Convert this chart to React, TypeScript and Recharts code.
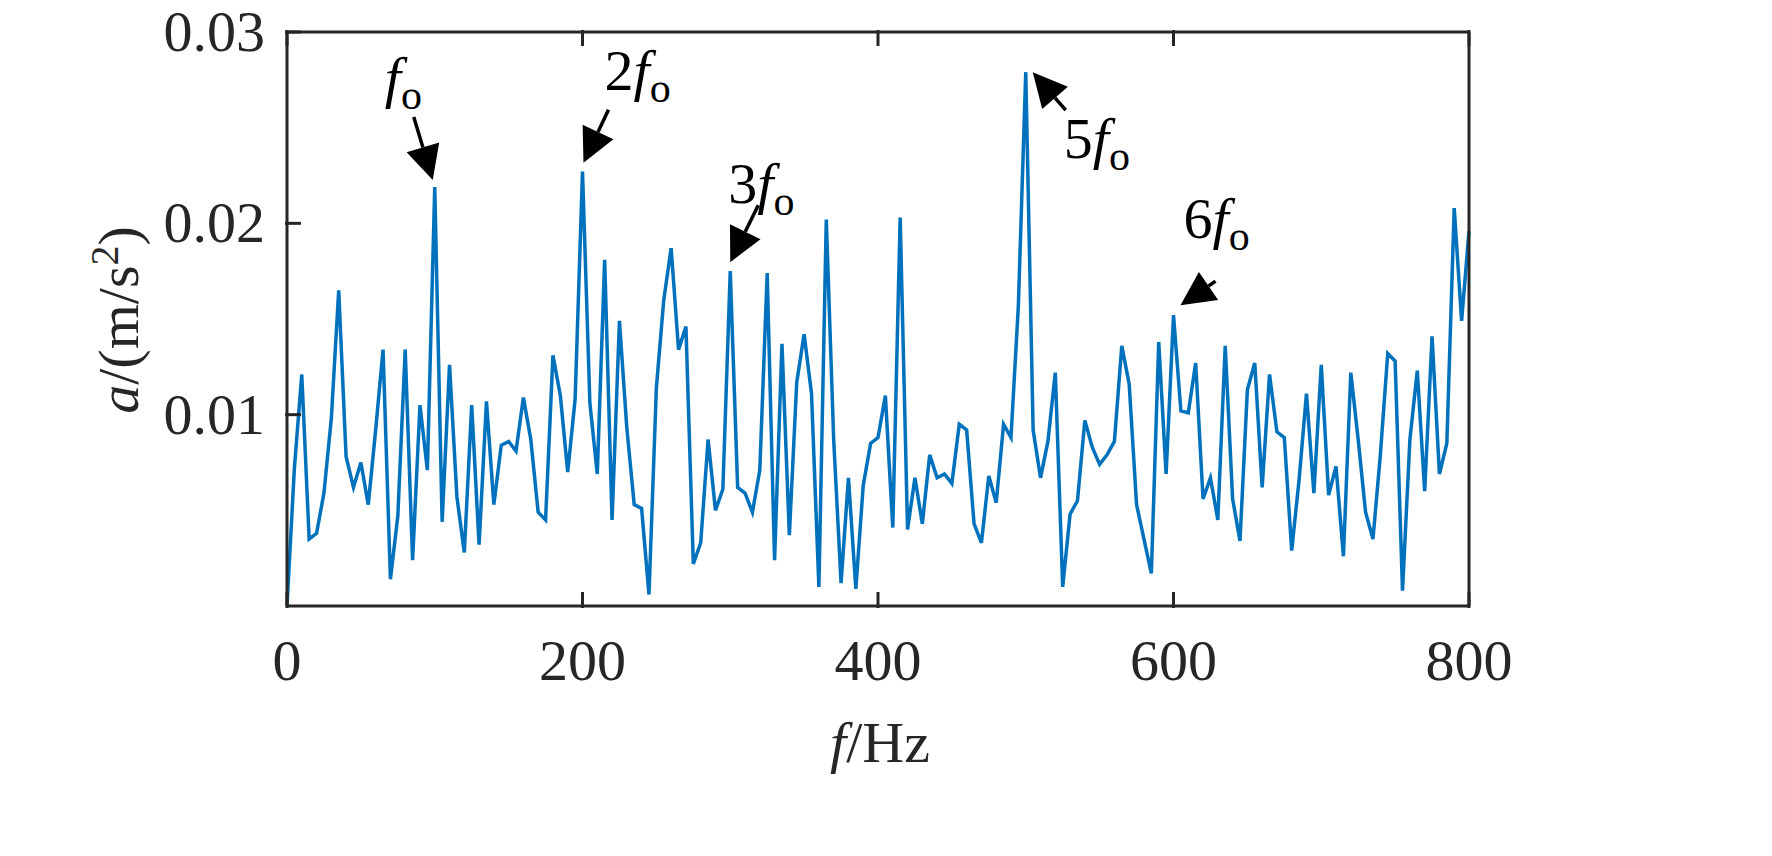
import { LineChart, Line, XAxis, YAxis, ReferenceDot } from 'recharts';

// acceleration amplitude spectrum, one sample every 5 Hz (0 .. 800 Hz)
const amplitudes: number[] = [
  0, 0.0072, 0.0121, 0.0035, 0.0038, 0.0059, 0.0098, 0.0165, 0.0078, 0.0062,
  0.0075, 0.0053, 0.0092, 0.0134, 0.0014, 0.0047, 0.0134, 0.0024, 0.0105, 0.0071,
  0.0219, 0.0044, 0.0126, 0.0057, 0.0028, 0.0105, 0.0032, 0.0107, 0.0053, 0.0084,
  0.0086, 0.0081, 0.0109, 0.0087, 0.0049, 0.0045, 0.0131, 0.011, 0.007, 0.0108,
  0.0227, 0.0106, 0.0069, 0.0181, 0.0045, 0.0149, 0.0093, 0.0053, 0.0051, 0.0006,
  0.0114, 0.016, 0.0187, 0.0134, 0.0146, 0.0022, 0.0033, 0.0087, 0.005, 0.0061,
  0.0175, 0.0062, 0.0059, 0.0049, 0.0071, 0.0174, 0.0024, 0.0137, 0.0037, 0.0117,
  0.0142, 0.0111, 0.001, 0.0202, 0.0087, 0.0012, 0.0067, 0.0009, 0.0063, 0.0085,
  0.0088, 0.011, 0.0041, 0.0203, 0.004, 0.0067, 0.0043, 0.0079, 0.0067, 0.0069,
  0.0064, 0.0095, 0.0092, 0.0043, 0.0033, 0.0068, 0.0054, 0.0095, 0.0088, 0.0157,
  0.0279, 0.0092, 0.0067, 0.0086, 0.0122, 0.001, 0.0048, 0.0055, 0.0097, 0.0083,
  0.0074, 0.0079, 0.0086, 0.0136, 0.0116, 0.0053, 0.0035, 0.0017, 0.0138, 0.0069,
  0.0152, 0.0102, 0.0101, 0.0127, 0.0056, 0.0067, 0.0045, 0.0136, 0.0056, 0.0034,
  0.0113, 0.0127, 0.0062, 0.0121, 0.0091, 0.0088, 0.0029, 0.0066, 0.0111, 0.0059,
  0.0126, 0.0058, 0.0073, 0.0026, 0.0122, 0.0087, 0.0049, 0.0035, 0.0079, 0.0132,
  0.0128, 0.0008, 0.0087, 0.0123, 0.006, 0.0141, 0.0069, 0.0085, 0.0208, 0.0149,
  0.0196,
];
const STEP_HZ = 5;

const xTicks = [0, 200, 400, 600, 800];
const yTicks = [0.01, 0.02, 0.03];

// harmonic markers: frequency, multiple label
const harmonicFreqs = [100, 200, 300, 500, 600];
const harmonicLabels = ['', '2', '3', '5', '6'];

const data = amplitudes.map((a, i) => ({ f: i * STEP_HZ, a }));

const FONT = '"Liberation Serif", "Times New Roman", serif';
const INK = '#262626';
const TICK = 16;
const FS = 58;

// arrow geometry relative to the peak: [tipDx, tipDy, tailDx, tailDy, labelDx, labelDy]
const arrowGeom: number[][] = [
  [-2, -7, -21, -70, -50, -90],
  [1, -9, 26, -62, 22, -82],
  [0, -9, 28, -66, -2, -68],
  [7, 0, 40, 38, 38, 86],
  [7, -10, 42, -34, 10, -77],
];

const Arrow = (props: any) => {
  const { cx, cy, idx } = props;
  const [tdx, tdy, sdx, sdy, ldx, ldy] = arrowGeom[idx];
  const tx = cx + tdx;
  const ty = cy + tdy;
  const sx = cx + sdx;
  const sy = cy + sdy;
  const len = Math.hypot(tx - sx, ty - sy);
  const ux = (tx - sx) / len;
  const uy = (ty - sy) / len;
  const L = 34;
  const W = 34;
  const bx = tx - ux * L;
  const by = ty - uy * L;
  const pts = `${tx},${ty} ${bx - uy * W / 2},${by + ux * W / 2} ${bx + uy * W / 2},${by - ux * W / 2}`;
  return (
    <g>
      <line x1={sx} y1={sy} x2={bx} y2={by} stroke="#000" strokeWidth={3.5} />
      <polygon points={pts} fill="#000" />
      <text x={cx + ldx} y={cy + ldy} fontFamily={FONT} fontSize={FS} fill="#000">
        <tspan>{harmonicLabels[idx]}</tspan>
        <tspan fontStyle="italic">f</tspan>
        <tspan dy={12} fontSize={42}>o</tspan>
      </text>
    </g>
  );
};

const makeYTick = (side: 'left' | 'right') => (props: any) => {
  const { x, y, payload } = props;
  const dir = side === 'left' ? 1 : -1;
  return (
    <g>
      <line x1={x} y1={y} x2={x + dir * TICK} y2={y} stroke={INK} strokeWidth={3} />
      {side === 'left' && (
        <text x={x - 20} y={y + 19} textAnchor="end" fontFamily={FONT} fontSize={FS} fill={INK}>
          {payload.value.toFixed(2)}
        </text>
      )}
    </g>
  );
};

const makeXTick = (side: 'bottom' | 'top') => (props: any) => {
  const { x, y, payload } = props;
  const dir = side === 'bottom' ? -1 : 1;
  return (
    <g>
      <line x1={x} y1={y} x2={x} y2={y + dir * TICK} stroke={INK} strokeWidth={3} />
      {side === 'bottom' && (
        <text x={x} y={y + 72} textAnchor="middle" fontFamily={FONT} fontSize={FS} fill={INK}>
          {payload.value}
        </text>
      )}
    </g>
  );
};

export default function App() {
  return (
    <div style={{ position: 'absolute', left: 0, top: 0, width: 1772, height: 856, background: '#fff' }}>
      <LineChart
        width={1772}
        height={856}
        data={data}
        margin={{ top: 31, right: 302, bottom: 0, left: 0 }}
      >
        <XAxis
          xAxisId="b"
          dataKey="f"
          type="number"
          domain={[0, 800]}
          ticks={xTicks}
          tickSize={0}
          tickLine={false}
          axisLine={{ stroke: INK, strokeWidth: 3 }}
          tick={makeXTick('bottom')}
          height={250}
        />
        <XAxis
          xAxisId="t"
          orientation="top"
          dataKey="f"
          type="number"
          domain={[0, 800]}
          ticks={xTicks}
          tickSize={0}
          tickLine={false}
          axisLine={{ stroke: INK, strokeWidth: 3 }}
          tick={makeXTick('top')}
          height={1}
        />
        <YAxis
          yAxisId="l"
          type="number"
          domain={[0, 0.03]}
          ticks={yTicks}
          tickSize={0}
          tickLine={false}
          axisLine={{ stroke: INK, strokeWidth: 3 }}
          tick={makeYTick('left')}
          width={287}
        />
        <YAxis
          yAxisId="r"
          orientation="right"
          type="number"
          domain={[0, 0.03]}
          ticks={yTicks}
          tickSize={0}
          tickLine={false}
          axisLine={{ stroke: INK, strokeWidth: 3 }}
          tick={makeYTick('right')}
          width={1}
        />
        <Line
          xAxisId="b"
          yAxisId="l"
          type="linear"
          dataKey="a"
          stroke="#0072BD"
          strokeWidth={3.5}
          dot={false}
          isAnimationActive={false}
        />
        {harmonicFreqs.map((f, i) => (
          <ReferenceDot
            key={f}
            xAxisId="b"
            yAxisId="l"
            x={f}
            y={amplitudes[f / STEP_HZ]}
            r={0}
            shape={(p: any) => <Arrow {...p} idx={i} />}
          />
        ))}
        <text x={880} y={762} textAnchor="middle" fontFamily={FONT} fontSize={FS} fill={INK}>
          <tspan fontStyle="italic">f</tspan>
          <tspan>/Hz</tspan>
        </text>
        <text
          x={138}
          y={320}
          textAnchor="middle"
          fontFamily={FONT}
          fontSize={FS}
          fill={INK}
          transform="rotate(-90 138 320)"
        >
          <tspan fontStyle="italic">a</tspan>
          <tspan>/(m/s</tspan>
          <tspan dy={-20} fontSize={40}>2</tspan>
          <tspan dy={20}>)</tspan>
        </text>
      </LineChart>
    </div>
  );
}
